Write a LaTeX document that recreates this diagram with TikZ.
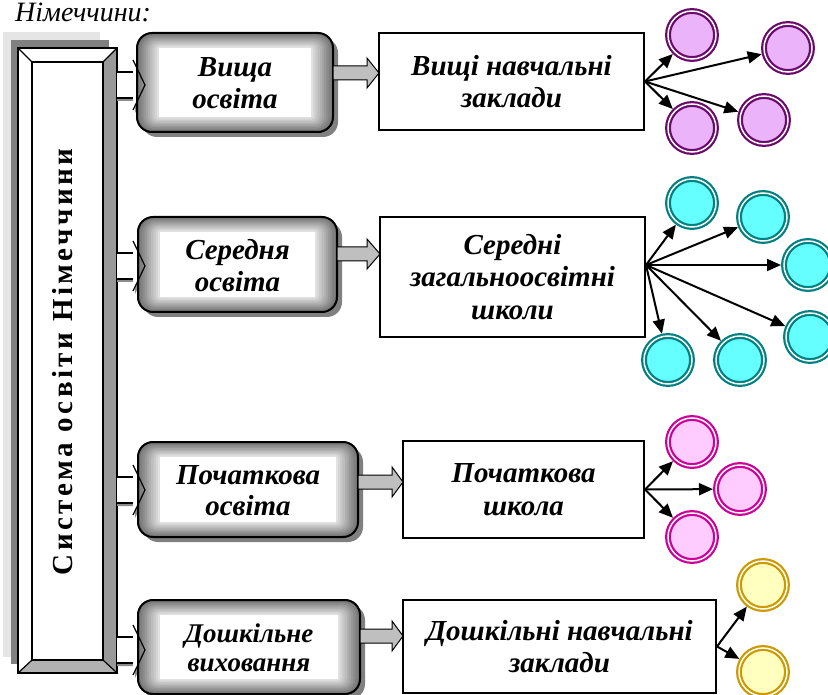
\documentclass[tikz,border=0pt]{standalone}
\usepackage{fontspec}
\setmainfont{Liberation Serif}
\usetikzlibrary{arrows.meta,calc}
\definecolor{purfill}{HTML}{EBB4FA}
\definecolor{purline}{HTML}{6A0A6A}
\definecolor{cyfill}{HTML}{66FFFF}
\definecolor{cyline}{HTML}{008080}
\definecolor{pkfill}{HTML}{FFCCFF}
\definecolor{pkline}{HTML}{CC0099}
\definecolor{yefill}{HTML}{FFFFC0}
\definecolor{yeline}{HTML}{CC9900}
\tikzset{
  rectbox/.style={draw, line width=2pt, fill=white, align=center, inner sep=0pt,
    font=\bfseries\itshape\fontsize{29}{32.5}\selectfont},
  ring/.style 2 args={circle, draw=#1, fill=#2, line width=2.2pt, double=white,
    double distance=1.5pt, minimum size=48pt, inner sep=0pt, outer sep=3pt},
  link/.style={line width=2pt, -{Triangle[length=14pt,width=12pt]}},
  grayblock/.style={fill=black!25, draw=black, line width=1pt},
}
% rounded level box: name, x1, y1, x2, y2, font size, leading, text
\newcommand{\lvlbox}[8]{%
  \fill[black!50, rounded corners=15pt] ({#2+5},{#3+5}) rectangle ({#4+5},{#5+5});
  \foreach \t in {0,...,10} {%
    \pgfmathsetmacro\gv{55-4.8*\t}%
    \pgfmathsetmacro\rr{max(15-1.3*\t,1)}%
    \fill[black!\gv, rounded corners=\rr pt] ({#2+2.2*\t},{#3+1.5*\t}) rectangle ({#4-2.2*\t},{#5-1.5*\t});
  }
  \fill[white] ({#2+22},{#3+15}) rectangle ({#4-22},{#5-15});
  \draw[line width=2pt, rounded corners=15pt] (#2,#3) rectangle (#4,#5);
  \node[align=center, inner sep=0pt, font=\bfseries\itshape\fontsize{#6}{#7}\selectfont]
    (#1) at ({(#2+#4)/2},{(#3+#5)/2+1}) {#8};
}
% white entry arrow at height y
\newcommand{\inarrow}[1]{%
  \fill[black!45] (117,{#1-10}) -- (135,{#1-10}) -- (135,{#1-22}) -- (148,{#1+3}) -- (135,{#1+28}) -- (135,{#1+16}) -- (117,{#1+16}) -- cycle;
  \fill[white] (117,{#1-13}) -- (133,{#1-13}) -- (133,{#1-25}) -- (146,{#1}) -- (133,{#1+25}) -- (133,{#1+13}) -- (117,{#1+13}) -- cycle;
  \draw[line width=1.2pt] (117,{#1-13}) -- (133,{#1-13}) (117,{#1+13}) -- (133,{#1+13});
}
\newcommand{\chevron}[1]{%
  \draw[line width=1.2pt] (133,{#1-25}) -- (145,{#1}) -- (133,{#1+25});
}
% gray block arrow: x start, x head base, x tip, y
\newcommand{\garrow}[4]{%
  \draw[grayblock] (#1,{#4-7}) -- (#2,{#4-7}) -- (#2,{#4-15}) -- (#3,#4) -- (#2,{#4+15}) -- (#2,{#4+7}) -- (#1,{#4+7}) -- cycle;
}
\begin{document}
\begin{tikzpicture}[x=1pt,y=-1pt]
\useasboundingbox (0,0) rectangle (828,695);
\clip (0,0) rectangle (828,695);

\node[anchor=base west, inner sep=0pt, font=\itshape\fontsize{28}{28}\selectfont] (title) at (15,22) {Німеччини:};

% left frame
\fill[black!10] (3,32) rectangle (100,657);
\fill[black!50] (11,40) rectangle (109,664);
\fill[white] (18,48) rectangle (117,673);
\fill[black!40] (117,48) -- (117,673) -- (103,660) -- (103,62) -- cycle;
\fill[black!30] (18,673) -- (117,673) -- (103,660) -- (32,660) -- cycle;
\draw[line width=1.2pt] (32,62) rectangle (103,660);
\draw[line width=1.2pt] (18,48) -- (32,62) (117,48) -- (103,62) (18,673) -- (32,660) (117,673) -- (103,660);
\node[draw, line width=2pt, minimum width=99pt, minimum height=625pt, inner sep=0pt, outer sep=0pt] (sys) at (67.5,360.5) {};
\node[rotate=90, anchor=base, inner sep=0pt,
  font=\bfseries\fontsize{29}{29}\selectfont\addfontfeature{LetterSpace=12}] (systext) at (72,362) {Система освіти Німеччини};

% entry arrows
\inarrow{85}
\inarrow{266}
\inarrow{490}
\inarrow{650}

% level boxes
\lvlbox{b1}{137}{33}{333}{132}{29}{32}{Вища\\освіта}
\lvlbox{b2}{138}{217}{337}{312}{29}{32}{Середня\\освіта}
\lvlbox{b3}{138}{442}{358}{537}{29}{31}{Початкова\\освіта}
\lvlbox{b4}{138}{600}{360}{694}{27}{28.5}{Дошкільне\\виховання}

\chevron{85}
\chevron{266}
\chevron{490}
\chevron{650}

% gray arrows
\garrow{333}{367}{379}{73}
\garrow{337}{367}{380}{254}
\garrow{358}{392}{403}{482}
\garrow{360}{392}{403}{636}

% institution boxes
\node[rectbox, minimum width=265pt, minimum height=97pt] (r1) at (511.5,81.5) {Вищі навчальні\\заклади};
\node[rectbox, minimum width=265pt, minimum height=120pt] (r2) at (512.5,277) {Середні\\загальноосвітні\\школи};
\node[rectbox, minimum width=241pt, minimum height=97pt] (r3) at (523.5,489.5) {Початкова\\школа};
\node[rectbox, minimum width=313pt, minimum height=93pt] (r4) at (559.5,646.5) {Дошкільні навчальні\\заклади};

\coordinate (o1) at (r1.east);
\coordinate (o2) at ($(r2.east)+(0,-12)$);
\coordinate (o3) at (r3.east);
\coordinate (o4) at (r4.east);

% circles
\node[ring={purline}{purfill}] (p1) at (692,35) {};
\node[ring={purline}{purfill}] (p2) at (788,48) {};
\node[ring={purline}{purfill}] (p3) at (764,120) {};
\node[ring={purline}{purfill}] (p4) at (692,128) {};

\node[ring={cyline}{cyfill}] (c1) at (692,203) {};
\node[ring={cyline}{cyfill}] (c2) at (763,217) {};
\node[ring={cyline}{cyfill}] (c3) at (808,265) {};
\node[ring={cyline}{cyfill}] (c4) at (810,337) {};
\node[ring={cyline}{cyfill}] (c5) at (740,360) {};
\node[ring={cyline}{cyfill}] (c6) at (668,360) {};

\node[ring={pkline}{pkfill}] (k1) at (692,442) {};
\node[ring={pkline}{pkfill}] (k2) at (740,489) {};
\node[ring={pkline}{pkfill}] (k3) at (692,537) {};

\node[ring={yeline}{yefill}] (y1) at (763,585) {};
\node[ring={yeline}{yefill}] (y2) at (763,672) {};

% links
\foreach \n in {p1,p2,p3,p4} \draw[link] (o1) -- (\n);
\foreach \n in {c1,c2,c3,c4,c5,c6} \draw[link] (o2) -- (\n);
\foreach \n in {k1,k2,k3} \draw[link] (o3) -- (\n);
\foreach \n in {y1,y2} \draw[link] (o4) -- (\n);
\end{tikzpicture}
\end{document}
